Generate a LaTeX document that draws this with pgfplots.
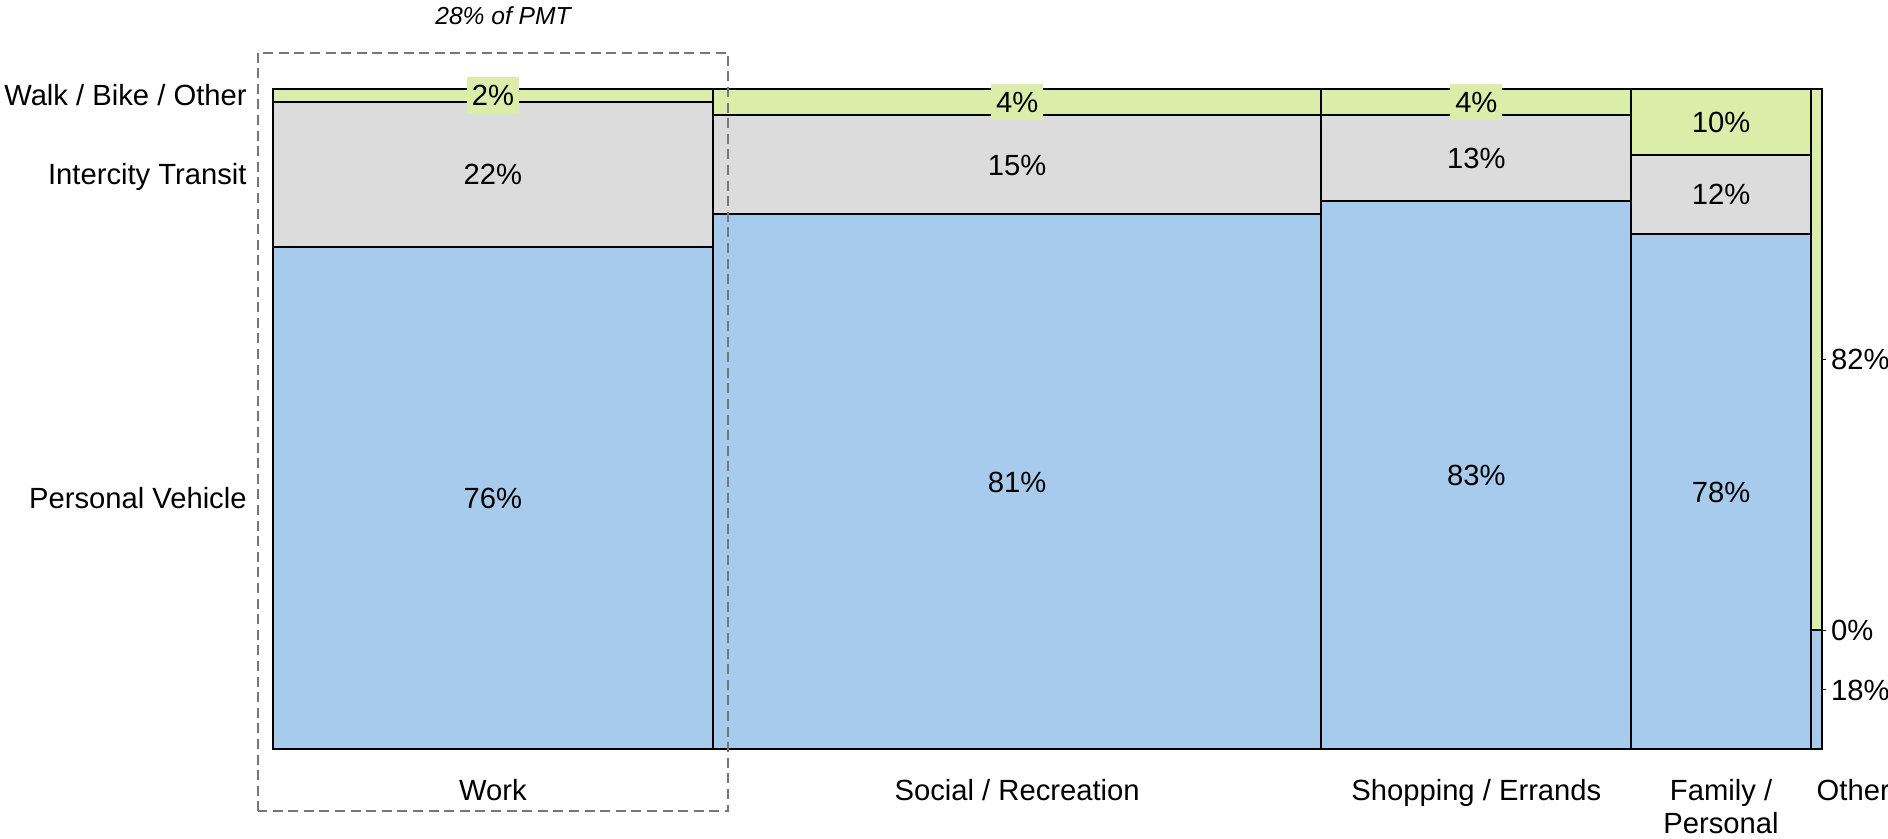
\documentclass[border=0pt]{standalone}
\usepackage{pgfplots}
\pgfplotsset{compat=1.18}
\usepackage{fontspec}
\setmainfont{Liberation Sans}

\definecolor{pvblue}{HTML}{A6CBEC}
\definecolor{itgray}{HTML}{DCDCDC}
\definecolor{wbogreen}{HTML}{DAEEA9}
\definecolor{boxgray}{HTML}{777777}

\begin{document}
\begin{tikzpicture}[
  every node/.style={font=\fontsize{14.6}{17.5}\selectfont, text=black},
  cell/.style={draw=black, line width=1pt},
  val/.style={anchor=base, yshift=-5.2pt},
  gval/.style={val, fill=wbogreen, inner xsep=2.5pt, inner ysep=4pt},
  side/.style={anchor=base west, inner xsep=0pt, yshift=-5.2pt, xshift=4.5pt},
  mode/.style={anchor=base east, inner xsep=0pt, yshift=-5.2pt, xshift=-13pt},
]
\useasboundingbox (-136.5pt,-44.85pt) rectangle (807.5pt,374.65pt);
\begin{axis}[
  at={(0,0)}, anchor=south west,
  scale only axis, width=774.35pt, height=330.3pt,
  xmin=0, xmax=100, ymin=0, ymax=100,
  hide axis, clip=false,
]
% Columns: share of PMT by trip purpose (x), mode split within purpose (y)
% Work: 0 -- 28.4  (76 / 22 / 2)
\addplot[cell, fill=pvblue]   coordinates {(0,0) (28.4,0) (28.4,76) (0,76)} -- cycle;
\addplot[cell, fill=itgray]   coordinates {(0,76) (28.4,76) (28.4,98) (0,98)} -- cycle;
\addplot[cell, fill=wbogreen] coordinates {(0,98) (28.4,98) (28.4,100) (0,100)} -- cycle;
% Social / Recreation: 28.4 -- 67.7  (81 / 15 / 4)
\addplot[cell, fill=pvblue]   coordinates {(28.4,0) (67.7,0) (67.7,81) (28.4,81)} -- cycle;
\addplot[cell, fill=itgray]   coordinates {(28.4,81) (67.7,81) (67.7,96) (28.4,96)} -- cycle;
\addplot[cell, fill=wbogreen] coordinates {(28.4,96) (67.7,96) (67.7,100) (28.4,100)} -- cycle;
% Shopping / Errands: 67.7 -- 87.7  (83 / 13 / 4)
\addplot[cell, fill=pvblue]   coordinates {(67.7,0) (87.7,0) (87.7,83) (67.7,83)} -- cycle;
\addplot[cell, fill=itgray]   coordinates {(67.7,83) (87.7,83) (87.7,96) (67.7,96)} -- cycle;
\addplot[cell, fill=wbogreen] coordinates {(67.7,96) (87.7,96) (87.7,100) (67.7,100)} -- cycle;
% Family / Personal: 87.7 -- 99.3  (78 / 12 / 10)
\addplot[cell, fill=pvblue]   coordinates {(87.7,0) (99.3,0) (99.3,78) (87.7,78)} -- cycle;
\addplot[cell, fill=itgray]   coordinates {(87.7,78) (99.3,78) (99.3,90) (87.7,90)} -- cycle;
\addplot[cell, fill=wbogreen] coordinates {(87.7,90) (99.3,90) (99.3,100) (87.7,100)} -- cycle;
% Other: 99.3 -- 100  (18 / 0 / 82)
\addplot[cell, fill=pvblue]   coordinates {(99.3,0) (100,0) (100,18) (99.3,18)} -- cycle;
\addplot[cell, fill=itgray]   coordinates {(99.3,18) (100,18) (100,18) (99.3,18)} -- cycle;
\addplot[cell, fill=wbogreen] coordinates {(99.3,18) (100,18) (100,100) (99.3,100)} -- cycle;

% value labels
\node[val]  at (axis cs:14.2,38)   {76\%};
\node[val]  at (axis cs:14.2,87)   {22\%};
\node[gval] at (axis cs:14.2,99)   {2\%};
\node[val]  at (axis cs:48.05,40.5) {81\%};
\node[val]  at (axis cs:48.05,88.5) {15\%};
\node[gval] at (axis cs:48.05,98)   {4\%};
\node[val]  at (axis cs:77.7,41.5) {83\%};
\node[val]  at (axis cs:77.7,89.5) {13\%};
\node[gval] at (axis cs:77.7,98)   {4\%};
\node[val]  at (axis cs:93.5,39)   {78\%};
\node[val]  at (axis cs:93.5,84)   {12\%};
\node[val]  at (axis cs:93.5,95)   {10\%};

% Other column: labels beside the bar
\draw[black, line width=0.5pt] (axis cs:100,9)  -- ++(2pt,0);
\draw[black, line width=0.5pt] (axis cs:100,18) -- ++(2pt,0);
\draw[black, line width=0.5pt] (axis cs:100,59) -- ++(2pt,0);
\node[side] at (axis cs:100,9)  {18\%};
\node[side] at (axis cs:100,18) {0\%};
\node[side] at (axis cs:100,59) {82\%};

% mode names, aligned with the Work column
\node[mode] at (axis cs:0,99) {Walk / Bike / Other};
\node[mode] at (axis cs:0,87) {Intercity Transit};
\node[mode] at (axis cs:0,38) {Personal Vehicle};

% purpose names
\node[anchor=base, yshift=-25.6pt] at (axis cs:14.2,0)  {Work};
\node[anchor=base, yshift=-25.6pt] at (axis cs:48.05,0) {Social / Recreation};
\node[anchor=base, yshift=-25.6pt] at (axis cs:77.7,0)  {Shopping / Errands};
\node[anchor=base, yshift=-25.6pt] at (axis cs:93.5,0)  {Family /};
\node[anchor=base, yshift=-42pt]   at (axis cs:93.5,0)  {Personal};
\node[anchor=base west, inner xsep=0pt, yshift=-25.6pt] at (axis cs:99.65,0) {Other};
\end{axis}

% highlight around the Work column
\draw[boxgray, line width=1pt, dash pattern=on 5pt off 2.8pt] (-7.75pt,-31.1pt) rectangle (227.5pt,348.3pt);
\node[font=\fontsize{12.3}{14}\selectfont\itshape] at (115pt,366.8pt) {28\% of PMT};
\end{tikzpicture}
\end{document}
